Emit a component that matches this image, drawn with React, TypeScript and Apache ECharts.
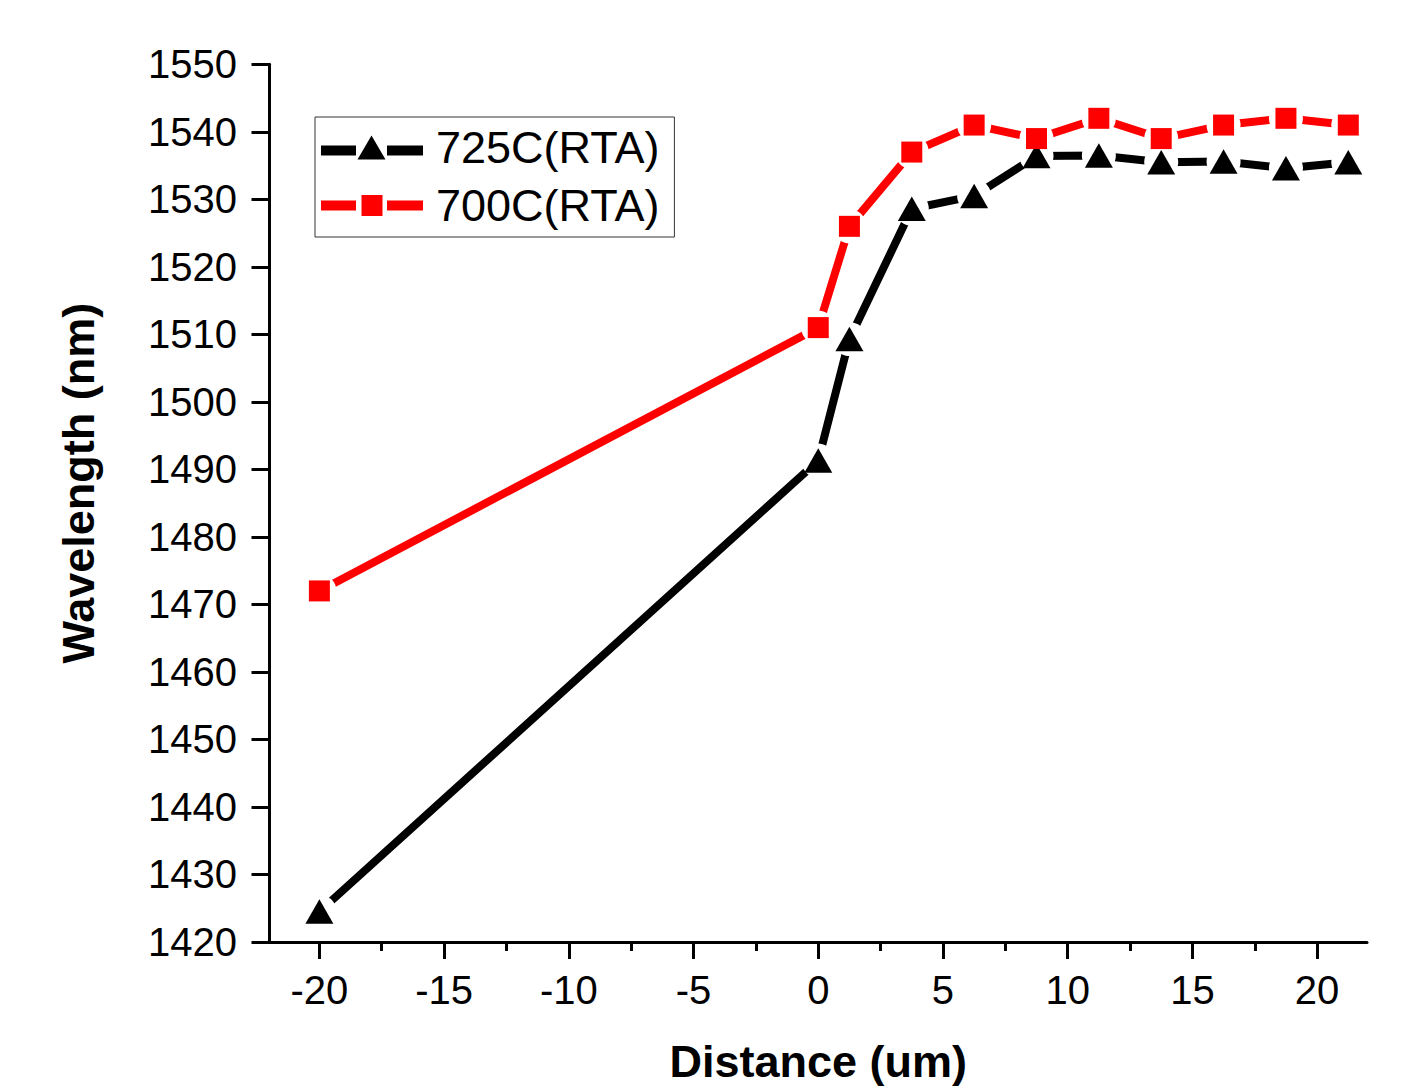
import React, { useEffect, useRef } from 'react';
import * as echarts from 'echarts';

// ---- data ----
const distanceUm = [-20, 0, 1.25, 3.75, 6.25, 8.75, 11.25, 13.75, 16.25, 18.75, 21.25];
const wavelength725 = [1424.5, 1491.3, 1509.3, 1528.6, 1530.5, 1536.4, 1536.5, 1535.5, 1535.6, 1534.6, 1535.5];
const wavelength700 = [1472, 1511, 1526, 1537, 1541, 1539, 1542, 1539, 1541, 1542, 1541];
const xTickValues = [-20, -15, -10, -5, 0, 5, 10, 15, 20];
const seriesNames = ['725C(RTA)', '700C(RTA)'];

const FONT = "'Liberation Sans', Arial, Helvetica, sans-serif";

const iconBlack = 'path://M0,13H35V23H0Z M50.5,3L64.5,27H36.5Z M66,13H102V23H66Z';
const iconRed = 'path://M0,10H35V20H0Z M40.5,4.5H61.5V25.5H40.5Z M66,10H102V20H66Z';

function buildOption() {
  const pts725 = distanceUm.map((x, i) => [x, wavelength725[i]]);
  const pts700 = distanceUm.map((x, i) => [x, wavelength700[i]]);
  return {
    animation: false,
    backgroundColor: '#fff',
    grid: { left: 269.5, right: 37, top: 64.3, bottom: 146, containLabel: false },
    legend: {
      orient: 'vertical',
      left: 315,
      top: 117,
      selectedMode: false,
      data: [
        { name: seriesNames[0], icon: iconBlack },
        { name: seriesNames[1], icon: iconRed },
      ],
      itemWidth: 102,
      itemHeight: 30,
      itemGap: 13,
      padding: [8, 15, 9, 6],
      borderColor: '#333',
      borderWidth: 1,
      borderRadius: 0,
      itemStyle: { borderWidth: 0 },
      formatter: (name: string) => `{g| }${name}`,
      textStyle: {
        fontSize: 45,
        color: '#000',
        fontFamily: FONT,
        rich: { g: { width: 8, fontSize: 45, fontFamily: FONT } },
      },
    },
    xAxis: {
      type: 'value',
      min: -22,
      max: 22,
      splitNumber: 9,
      name: 'Distance (um)',
      nameLocation: 'middle',
      nameGap: 97,
      nameTextStyle: { fontSize: 45, fontWeight: 'bold', color: '#000', fontFamily: FONT },
      axisLine: { show: true, onZero: false, lineStyle: { color: '#000', width: 3 } },
      axisTick: { show: true, length: 17, customValues: xTickValues, lineStyle: { color: '#000', width: 3 } },
      minorTick: { show: true, splitNumber: 2, length: 9, lineStyle: { color: '#000', width: 3 } },
      axisLabel: {
        customValues: xTickValues,
        margin: 28,
        fontSize: 40,
        color: '#000',
        fontFamily: FONT,
        formatter: (v: number) => String(v),
      },
      splitLine: { show: false },
      minorSplitLine: { show: false },
    },
    yAxis: {
      type: 'value',
      min: 1420,
      max: 1550,
      interval: 10,
      name: 'Wavelength (nm)',
      nameLocation: 'middle',
      nameGap: 169,
      nameTextStyle: {
        fontSize: 45,
        fontWeight: 'bold',
        color: '#000',
        fontFamily: FONT,
        padding: [0, 0, 0, 40],
      },
      axisLine: { show: true, onZero: false, lineStyle: { color: '#000', width: 3 } },
      axisTick: { show: true, length: 18, lineStyle: { color: '#000', width: 3 } },
      axisLabel: {
        margin: 32.5,
        fontSize: 40,
        color: '#000',
        fontFamily: FONT,
        formatter: (v: number) => String(v),
      },
      splitLine: { show: false },
    },
    series: [
      {
        name: seriesNames[0],
        type: 'line',
        data: pts725,
        symbol: 'none',
        lineStyle: { color: '#000', width: 8, cap: 'butt' },
        itemStyle: { color: '#000' },
        z: 2,
      },
      {
        name: seriesNames[1],
        type: 'line',
        data: pts700,
        symbol: 'none',
        lineStyle: { color: '#ff0000', width: 8, cap: 'butt' },
        itemStyle: { color: '#ff0000' },
        z: 2,
      },
      {
        name: 'gap725',
        type: 'scatter',
        data: pts725,
        symbol: 'circle',
        symbolSize: 34,
        itemStyle: { color: '#fff', opacity: 1 },
        silent: true,
        z: 3,
      },
      {
        name: 'gap700',
        type: 'scatter',
        data: pts700,
        symbol: 'circle',
        symbolSize: 34,
        itemStyle: { color: '#fff', opacity: 1 },
        silent: true,
        z: 3,
      },
      {
        name: 'mark725',
        type: 'scatter',
        data: pts725,
        symbol: 'triangle',
        symbolSize: [28, 24.5],
        itemStyle: { color: '#000', opacity: 1 },
        z: 4,
      },
      {
        name: 'mark700',
        type: 'scatter',
        data: pts700,
        symbol: 'rect',
        symbolSize: 21,
        itemStyle: { color: '#ff0000', opacity: 1 },
        z: 4,
      },
    ],
  };
}

export default function App() {
  const ref = useRef<HTMLDivElement>(null);
  useEffect(() => {
    if (!ref.current) return;
    const chart = echarts.init(ref.current, null, { renderer: 'svg' });
    chart.setOption(buildOption() as any);
    return () => chart.dispose();
  }, []);
  return (
    <div
      ref={ref}
      style={{ position: 'absolute', left: 0, top: 0, width: 1404, height: 1089, background: '#fff' }}
    />
  );
}
